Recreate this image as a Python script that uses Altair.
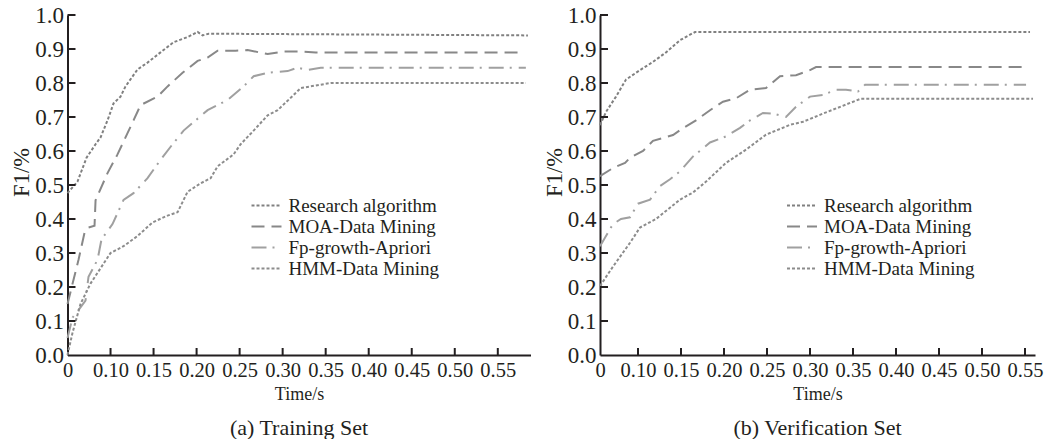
import altair as alt
import pandas as pd

FONT = "Liberation Serif"
INK = "#231f20"

methods = ["Research algorithm", "MOA-Data Mining", "Fp-growth-Apriori", "HMM-Data Mining"]
line_colors = ["#808080", "#888888", "#a0a0a0", "#8c8c8c"]
line_dashes = [[3, 2], [13, 7], [15, 6, 2, 7], [3, 2]]

y_ticks = [0.0, 0.1, 0.2, 0.3, 0.4, 0.5, 0.6, 0.7, 0.8, 0.9, 1.0]

# ---------------- (a) Training Set ----------------
train_x_ticks = [0.05, 0.10, 0.15, 0.20, 0.25, 0.30, 0.35, 0.40, 0.45, 0.50, 0.55]
train_x_labels = ["0", "0.10", "0.15", "0.20", "0.25", "0.30", "0.35", "0.40", "0.45", "0.50", "0.55"]
train_x_domain = [0.05, 0.588]

tr_research_t = [0.05, 0.0616, 0.0721, 0.0826, 0.0884, 0.0965, 0.1035, 0.1116, 0.1174, 0.1314,
                 0.143, 0.1581, 0.1733, 0.1895, 0.2012, 0.207, 0.214, 0.585]
tr_research_f = [0.476, 0.51, 0.58, 0.62, 0.64, 0.69, 0.74, 0.76, 0.79, 0.84,
                 0.86, 0.89, 0.92, 0.935, 0.95, 0.94, 0.945, 0.94]

tr_moa_t = [0.05, 0.0628, 0.0698, 0.0744, 0.0814, 0.0826, 0.0965, 0.1081, 0.1174, 0.1267,
            0.1349, 0.1547, 0.1663, 0.1837, 0.2012, 0.2128, 0.2244, 0.2453, 0.2593, 0.2826,
            0.3012, 0.3209, 0.3384, 0.5744]
tr_moa_f = [0.15, 0.28, 0.36, 0.375, 0.38, 0.455, 0.535, 0.59, 0.64, 0.69,
            0.735, 0.76, 0.79, 0.83, 0.865, 0.875, 0.895, 0.895, 0.897, 0.885,
            0.893, 0.893, 0.89, 0.89]

tr_fp_t = [0.05, 0.0558, 0.0651, 0.0709, 0.0744, 0.0849, 0.0895, 0.1023, 0.1151, 0.1267,
           0.143, 0.1581, 0.1721, 0.1849, 0.2128, 0.236, 0.2547, 0.2663, 0.2826, 0.3058,
           0.3174, 0.3291, 0.3442, 0.5826]
tr_fp_f = [0.05, 0.11, 0.14, 0.16, 0.23, 0.28, 0.34, 0.385, 0.456, 0.476,
           0.52, 0.574, 0.62, 0.66, 0.72, 0.75, 0.79, 0.82, 0.83, 0.835,
           0.845, 0.838, 0.845, 0.845]

tr_hmm_t = [0.05, 0.0558, 0.0651, 0.0767, 0.10, 0.1151, 0.1314, 0.1488, 0.1663, 0.1779,
            0.1849, 0.1895, 0.2047, 0.2163, 0.2244, 0.243, 0.2512, 0.2663, 0.2826, 0.2942,
            0.3128, 0.3209, 0.3558, 0.5826]
tr_hmm_f = [0.0, 0.065, 0.15, 0.21, 0.30, 0.32, 0.35, 0.39, 0.41, 0.42,
            0.456, 0.48, 0.505, 0.52, 0.555, 0.59, 0.62, 0.66, 0.705, 0.72,
            0.765, 0.785, 0.80, 0.80]

# ---------------- (b) Verification Set ----------------
ver_x_ticks = [0.0558, 0.10, 0.15, 0.20, 0.25, 0.30, 0.35, 0.40, 0.45, 0.50, 0.55]
ver_x_labels = ["0", "0.10", "0.15", "0.20", "0.25", "0.30", "0.35", "0.40", "0.45", "0.50", "0.55"]
ver_x_domain = [0.0558, 0.5616]

vr_research_t = [0.0558, 0.0628, 0.0744, 0.086, 0.1023, 0.1174, 0.1326, 0.1488, 0.1663, 0.5558]
vr_research_f = [0.676, 0.715, 0.76, 0.81, 0.838, 0.862, 0.89, 0.926, 0.95, 0.95]

vr_moa_t = [0.0558, 0.0709, 0.0849, 0.0907, 0.1058, 0.1174, 0.1407, 0.1523, 0.1674, 0.1837,
            0.1988, 0.214, 0.2302, 0.2488, 0.2651, 0.2837, 0.30, 0.307, 0.5512]
vr_moa_f = [0.526, 0.55, 0.565, 0.58, 0.60, 0.63, 0.647, 0.667, 0.69, 0.72,
            0.745, 0.755, 0.78, 0.785, 0.82, 0.823, 0.838, 0.847, 0.847]

vr_fp_t = [0.0558, 0.0709, 0.0802, 0.0907, 0.10, 0.114, 0.1256, 0.1372, 0.1488, 0.164,
           0.1837, 0.2023, 0.2186, 0.2302, 0.2453, 0.257, 0.2721, 0.2837, 0.30, 0.3151,
           0.3302, 0.3419, 0.3558, 0.364, 0.5512]
vr_fp_f = [0.32, 0.385, 0.40, 0.405, 0.445, 0.457, 0.497, 0.517, 0.54, 0.584,
           0.625, 0.643, 0.668, 0.69, 0.712, 0.71, 0.70, 0.73, 0.76, 0.765,
           0.78, 0.78, 0.775, 0.795, 0.795]

vr_hmm_t = [0.0558, 0.0709, 0.0907, 0.1023, 0.1209, 0.1488, 0.164, 0.1791, 0.2023, 0.2256,
            0.2488, 0.2767, 0.2919, 0.3151, 0.3593, 0.5593]
vr_hmm_f = [0.203, 0.26, 0.33, 0.375, 0.40, 0.457, 0.478, 0.51, 0.565, 0.604,
            0.648, 0.677, 0.686, 0.71, 0.754, 0.754]


def frame(series):
    rows = []
    for name, ts, fs in series:
        for t, f in zip(ts, fs):
            rows.append({"method": name, "t": t, "f1": f})
    return pd.DataFrame(rows)


def label_expr(ticks, labels):
    parts = []
    for v, lab in zip(ticks, labels):
        parts.append(f"abs(datum.value - {v}) < 0.001 ? '{lab}' : ")
    return "".join(parts) + "''"


def panel(df, x_domain, x_ticks, x_labels, width, title, legend_x):
    H = 340
    xs = alt.Scale(domain=x_domain, nice=False, zero=False)
    ys = alt.Scale(domain=[0, 1], nice=False)
    x_axis = alt.Axis(values=x_ticks, labelExpr=label_expr(x_ticks, x_labels),
                      title="Time/s", ticks=False, grid=False,
                      labelFont=FONT, labelFontSize=20.5, labelColor=INK,
                      labelPadding=5, labelOverlap=False, labelFlush=False,
                      titleFont=FONT, titleFontSize=18, titleFontWeight="normal",
                      titleColor=INK, titlePadding=5,
                      domainColor=INK, domainWidth=2)
    y_axis = alt.Axis(values=y_ticks, format=".1f", title="F1/%", ticks=False,
                      grid=False, labelFont=FONT, labelFontSize=23, labelColor=INK,
                      labelPadding=4, labelOverlap=False, labelFlush=False,
                      titleFont=FONT, titleFontSize=22.5, titleFontWeight="normal",
                      titleColor=INK, titlePadding=1, titleY=157,
                      domainColor=INK, domainWidth=2)
    leg = alt.Legend(orient="none", legendX=legend_x, legendY=180, title=None,
                     labelFont=FONT, labelFontSize=19, labelColor=INK, labelLimit=400,
                     symbolType="stroke", symbolStrokeWidth=2, symbolSize=900,
                     labelOffset=6, rowPadding=0, clipHeight=21)
    lines = alt.Chart(df).mark_line(strokeWidth=2).encode(
        x=alt.X("t:Q", scale=xs, axis=x_axis, title="Time/s"),
        y=alt.Y("f1:Q", scale=ys, axis=y_axis, title="F1/%"),
        color=alt.Color("method:N", scale=alt.Scale(domain=methods, range=line_colors),
                        sort=methods, legend=leg),
        strokeDash=alt.StrokeDash("method:N", scale=alt.Scale(domain=methods, range=line_dashes),
                                  sort=methods, legend=leg),
    )
    ytick = alt.Chart(pd.DataFrame({"f1": y_ticks[1:]})).mark_rule(
        color=INK, strokeWidth=2).encode(
        y=alt.Y("f1:Q", scale=ys, axis=y_axis, title="F1/%"),
        x=alt.value(0), x2=alt.value(8))
    xtick = alt.Chart(pd.DataFrame({"t": x_ticks[1:]})).mark_rule(
        color=INK, strokeWidth=2).encode(
        x=alt.X("t:Q", scale=xs, axis=x_axis, title="Time/s"),
        y=alt.value(H), y2=alt.value(H - 7))
    return alt.layer(lines, ytick, xtick).properties(
        width=width, height=H,
        title=alt.TitleParams(title, orient="bottom", anchor="middle", font=FONT,
                              fontSize=22, fontWeight="normal", color=INK, offset=14))


train_df = frame([
    (methods[0], tr_research_t, tr_research_f),
    (methods[1], tr_moa_t, tr_moa_f),
    (methods[2], tr_fp_t, tr_fp_f),
    (methods[3], tr_hmm_t, tr_hmm_f),
])
ver_df = frame([
    (methods[0], vr_research_t, vr_research_f),
    (methods[1], vr_moa_t, vr_moa_f),
    (methods[2], vr_fp_t, vr_fp_f),
    (methods[3], vr_hmm_t, vr_hmm_f),
])

left = panel(train_df, train_x_domain, train_x_ticks, train_x_labels, 463,
             "(a) Training Set", 183)
right = panel(ver_df, ver_x_domain, ver_x_ticks, ver_x_labels, 435,
              "(b) Verification Set", 186)

chart = alt.hconcat(left, right, spacing=10.5).resolve_scale(
    x="independent", color="independent", strokeDash="independent"
).resolve_legend(color="independent", strokeDash="independent").properties(
    padding={"left": 10.5, "top": 4, "right": 0, "bottom": 0},
    background="white",
).configure_view(stroke=None)

chart.save("out.html", embed_options={"renderer": "svg", "actions": False})
